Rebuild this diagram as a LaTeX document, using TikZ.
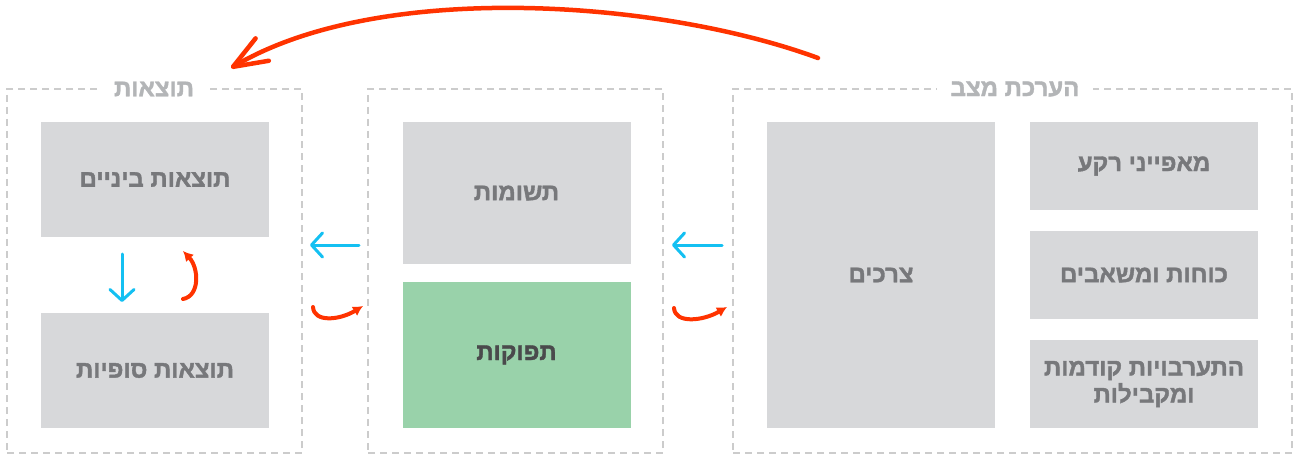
\documentclass[tikz,border=0pt]{standalone}
\usepackage{fontspec}
\setmainfont{Liberation Sans}
\newfontfamily\heb[Script=Hebrew,FakeBold=1.6]{Liberation Sans Bold}
\TeXXeTstate=1
\usetikzlibrary{arrows.meta}
\definecolor{boxgray}{HTML}{D7D8DA}
\definecolor{txtgray}{HTML}{77787B}
\definecolor{titlegray}{HTML}{B3B5B7}
\definecolor{framegray}{HTML}{CCCCCC}
\definecolor{boxgreen}{HTML}{99D2AA}
\definecolor{txtdark}{HTML}{4A4A4C}
\definecolor{arrblue}{HTML}{14C0F2}
\definecolor{arrred}{HTML}{FF3300}
\tikzset{
  frame/.style={draw=framegray, line width=2pt, dash pattern=on 7pt off 5pt, inner sep=0pt},
  ftitle/.style={fill=white, text=titlegray, font=\heb\fontsize{24}{26}\selectfont, inner xsep=14pt, inner ysep=2pt},
  gbox/.style={fill=boxgray, text=txtgray, font=\heb\fontsize{24}{27}\selectfont, inner sep=0pt, align=center, minimum width=228pt},
  greenbox/.style={gbox, fill=boxgreen, text=txtdark},
  bluearr/.style={draw=arrblue, line width=3pt, line cap=round, -{Straight Barb[length=11pt,width=24pt,round]}},
  redarr/.style={draw=arrred, line width=4pt, line cap=round, -{Latex[length=10pt,width=11pt]}},
  bigarr/.style={draw=arrred, line width=4.5pt, line cap=round, -{Straight Barb[length=34pt,width=26pt,round]}}
}
\newcommand{\rl}[1]{\beginR #1\endR}
\begin{document}
\begin{tikzpicture}[x=1pt,y=-1pt]
\useasboundingbox (0,0) rectangle (1298,457);
% frames
\node[frame, minimum width=295pt, minimum height=364pt] (fL) at (154.5,271) {};
\node[frame, minimum width=295pt, minimum height=364pt] (fM) at (515.5,271) {};
\node[frame, minimum width=559pt, minimum height=364pt] (fR) at (1012.5,271) {};
\node[ftitle] (tL) at (154,89) {\rl{תוצאות}};
\node[ftitle] (tR) at (1015,89) {\rl{הערכת מצב}};
% left boxes
\node[gbox, minimum height=115pt] (inter) at (155,179.5) {\rl{תוצאות ביניים}};
\node[gbox, minimum height=115pt] (final) at (155,370.5) {\rl{תוצאות סופיות}};
% middle boxes
\node[gbox, minimum height=142pt] (inputs) at (516.5,193) {\rl{תשומות}};
\node[greenbox, minimum height=146pt] (outputs) at (516.5,355) {\rl{תפוקות}};
% right boxes
\node[gbox, minimum height=306pt] (needs) at (881,275) {\rl{צרכים}};
\node[gbox, minimum height=88pt] (bg) at (1144,166) {\rl{מאפייני רקע}};
\node[gbox, minimum height=88pt] (forces) at (1144,275) {\rl{כוחות ומשאבים}};
\node[gbox, minimum height=88pt] (prev) at (1144,384) {\rl{התערבויות קודמות}\\\rl{ומקבילות}};
% arrow coordinates
\coordinate (b1s) at (359,245); \coordinate (b1e) at (310,245);
\coordinate (b2s) at (722,245); \coordinate (b2e) at (672,245);
\coordinate (r1s) at (313,307); \coordinate (r1e) at (363,306);
\coordinate (r2s) at (674,308); \coordinate (r2e) at (727,307);
\coordinate (bds) at (122,254); \coordinate (bde) at (122,302);
\coordinate (rus) at (183,299); \coordinate (rue) at (183,251);
\coordinate (bigs) at (818,58); \coordinate (bige) at (231,68);
% arrows
\draw[bluearr] (b1s) -- (b1e);
\draw[bluearr] (b2s) -- (b2e);
\draw[bluearr] (bds) -- (bde);
\draw[redarr] (r1s) .. controls (314,323) and (340,320) .. (r1e);
\draw[redarr] (r2s) .. controls (675,324) and (703,321) .. (r2e);
\draw[redarr] (rus) .. controls (200,296) and (199,268) .. (rue);
\draw[bigarr] (bigs) .. controls (660,0) and (380,-20) .. (bige);
\end{tikzpicture}
\end{document}
